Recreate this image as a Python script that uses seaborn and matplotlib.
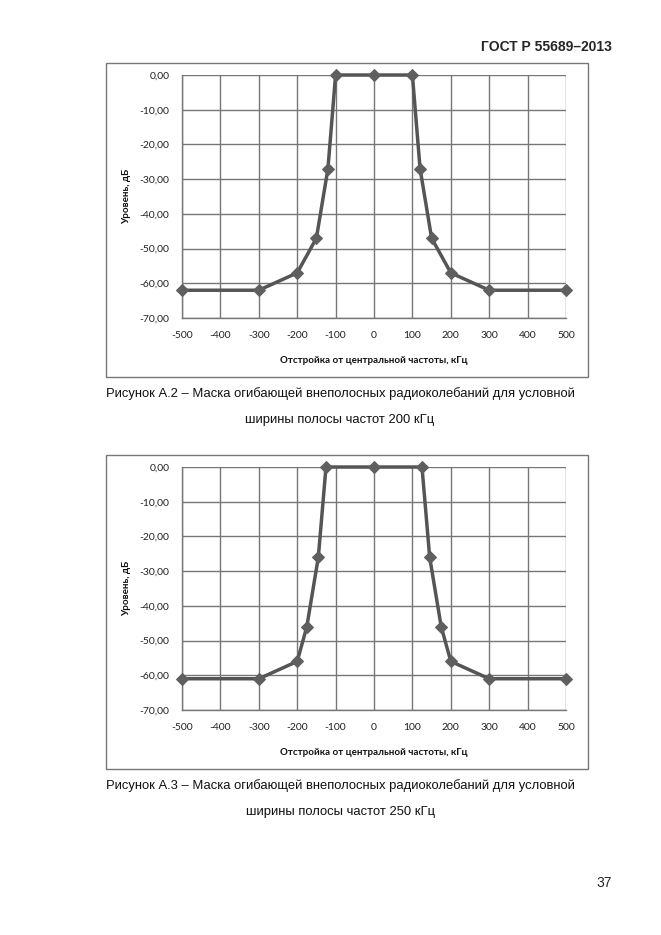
import matplotlib
matplotlib.use("Agg")
import matplotlib.pyplot as plt
from matplotlib.patches import Rectangle
import seaborn as sns
import pandas as pd
import numpy as np

sns.set_style("white")
plt.rcParams['font.family'] = ['Lato', 'DejaVu Sans']

# ---- data ----
freq_a2 = [-500, -300, -200, -150, -120, -100, 0, 100, 120, 150, 200, 300, 500]
level_a2 = [-62, -62, -57, -47, -27, 0, 0, 0, -27, -47, -57, -62, -62]

freq_a3 = [-500, -300, -200, -175, -145, -125, 0, 125, 145, 175, 200, 300, 500]
level_a3 = [-61, -61, -56, -46, -26, 0, 0, 0, -26, -46, -56, -61, -61]

x_ticks = [-500, -400, -300, -200, -100, 0, 100, 200, 300, 400, 500]
y_ticks = [0, -10, -20, -30, -40, -50, -60, -70]

x_label = "Отстройка от центральной частоты, кГц"
y_label = "Уровень, дБ"
header = "ГОСТ Р 55689–2013"
cap_a2 = ["Рисунок А.2 – Маска огибающей внеполосных радиоколебаний для условной",
          "ширины полосы частот 200 кГц"]
cap_a3 = ["Рисунок А.3 – Маска огибающей внеполосных радиоколебаний для условной",
          "ширины полосы частот 250 кГц"]
page_no = "37"

W, H = 661, 935
fig = plt.figure(figsize=(W / 100, H / 100), dpi=100)

def px_rect(l, t, r, b):
    return [l / W, 1 - b / H, (r - l) / W, (b - t) / H]

grid_c = "#767676"
line_c = "#555555"

def draw_chart(frame, plot, fx, fy, caption, cap_y):
    fl, ft, fr, fb = frame
    fig.patches.append(Rectangle((fl / W, 1 - fb / H), (fr - fl) / W, (fb - ft) / H,
                                 transform=fig.transFigure, fill=False,
                                 edgecolor="#777777", linewidth=1.0))
    ax = fig.add_axes(px_rect(*plot))
    df = pd.DataFrame({"x": fx, "y": fy})
    sns.lineplot(data=df, x="x", y="y", ax=ax, color=line_c, linewidth=2.5,
                 marker="D", markersize=6, markerfacecolor="#5f5f5f",
                 markeredgecolor="#5f5f5f", sort=False, zorder=5, clip_on=False)
    ax.set_xlim(-500, 500)
    ax.set_ylim(-70, 0)
    ax.set_xticks(x_ticks)
    ax.set_yticks(y_ticks)
    ax.set_xticklabels([str(v) for v in x_ticks])
    ax.set_yticklabels([f"{v:.2f}".replace(".", ",") for v in y_ticks])
    ax.grid(True, color=grid_c, linewidth=1.0)
    ax.set_axisbelow(True)
    for s in ax.spines.values():
        s.set_color(grid_c)
        s.set_linewidth(1.0)
    ax.spines['top'].set_visible(False)
    ax.spines['right'].set_visible(False)
    ax.tick_params(axis='both', labelsize=7.5, colors="#222222", length=4,
                   width=1.0, color=grid_c, direction='out', pad=5)
    ax.tick_params(axis='x', pad=5)
    ax.set_xlabel(x_label, fontsize=7, fontweight='bold', labelpad=12, color="#111111")
    ax.set_ylabel(y_label, fontsize=7, fontweight='bold', labelpad=6, color="#111111")
    for text, yy in zip(caption, cap_y):
        fig.text(340 / W, 1 - yy / H, text, ha='center', va='center',
                 fontsize=9.4, family=['Liberation Sans', 'DejaVu Sans'], color="#111111")
    return ax

draw_chart((106, 63, 588, 377), (182, 75, 566, 318), freq_a2, level_a2, cap_a2, (394, 420))
draw_chart((106, 455, 588, 769), (182, 467, 566, 710), freq_a3, level_a3, cap_a3, (786, 812))

fig.text(612 / W, 1 - 47 / H, header, ha='right', va='center', fontsize=10,
         fontweight='bold', family=['Liberation Sans', 'DejaVu Sans'])
fig.text(612 / W, 1 - 883 / H, page_no, ha='right', va='center', fontsize=10,
         family=['Liberation Sans', 'DejaVu Sans'])

fig.savefig("out.png", dpi=100, facecolor="white")
